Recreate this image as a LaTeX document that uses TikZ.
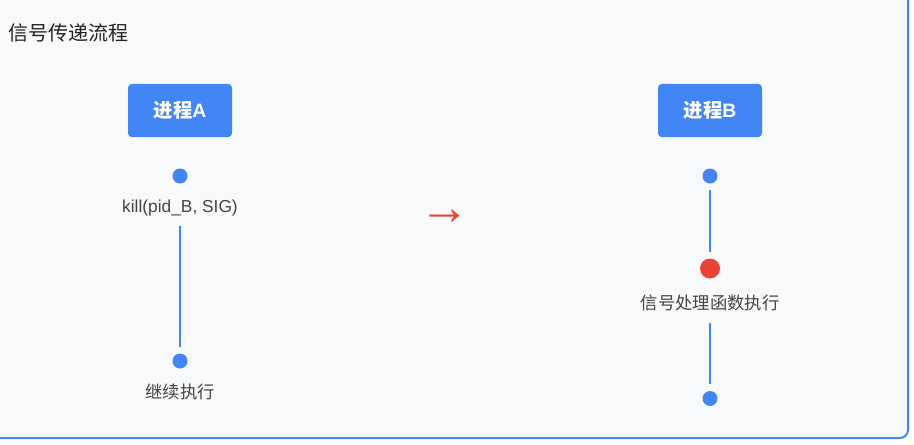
\documentclass[tikz,border=0pt]{standalone}
\usepackage{fontspec}
\setmainfont{Liberation Sans}
\newfontfamily\cjk{Noto Sans CJK SC}
\definecolor{procblue}{HTML}{4285F4}
\definecolor{sigred}{HTML}{EA4335}
\definecolor{panelbg}{HTML}{F8F9FA}
\definecolor{labelgray}{HTML}{444444}
\definecolor{titlegray}{HTML}{222222}
\tikzset{
  procbox/.style={fill=procblue, rounded corners=3pt, inner sep=0pt,
    minimum width=78pt, minimum height=40pt, text=white,
    font=\bfseries\fontsize{14.5}{17}\selectfont},
  evdot/.style={circle, fill=procblue, inner sep=0pt, minimum size=11.25pt},
  sigdot/.style={circle, fill=sigred, inner sep=0pt, minimum size=15pt},
  lbl/.style={text=labelgray, inner sep=0pt, text height=9.5pt, text depth=3pt,
    font=\fontsize{13}{15}\selectfont},
  vline/.style={procblue, line width=1.5pt, shorten <=#1, shorten >=5pt},
  vline/.default=5pt
}
\begin{document}
\begin{tikzpicture}[x=0.75pt, y=-0.75pt]
    % Page and panel
    \useasboundingbox (0,0) rectangle (914,444);
    \clip (0,0) rectangle (914,444);
    \draw[procblue, fill=panelbg, line width=1.5pt, rounded corners=6pt] (-20,-20) rectangle (908,438);

    % Title
    \node[anchor=west, inner sep=0pt, text=titlegray, font=\cjk\fontsize{15}{17}\selectfont] (title) at (8,33) {信号传递流程};

    % Process A
    \node[procbox] (procA) at (180,110.5) {{\cjk 进程}A};
    \node[evdot] (a1) at (180,176) {};
    \node[lbl] (kill) at (180,208) {kill(pid\_B, SIG)};
    \node[evdot] (a2) at (180,361) {};
    \node[lbl, font=\cjk\fontsize{13}{15}\selectfont] (cont) at (180,394) {继续执行};
    \draw[vline=7pt] (kill) -- (a2);

    % Signal arrow
    \node[text=sigred, inner sep=0pt, font=\fontsize{38}{38}\selectfont] (sig) at (445,217) {→};

    % Process B
    \node[procbox] (procB) at (710,110.5) {{\cjk 进程}B};
    \node[evdot] (b1) at (710,176) {};
    \node[sigdot] (b2) at (710,268.5) {};
    \node[lbl, font=\cjk\fontsize{13}{15}\selectfont] (handler) at (710,305) {信号处理函数执行};
    \node[evdot] (b3) at (710,398.5) {};
    \draw[vline] (b1) -- (b2);
    \draw[vline=7pt] (handler) -- (b3);
\end{tikzpicture}
\end{document}
